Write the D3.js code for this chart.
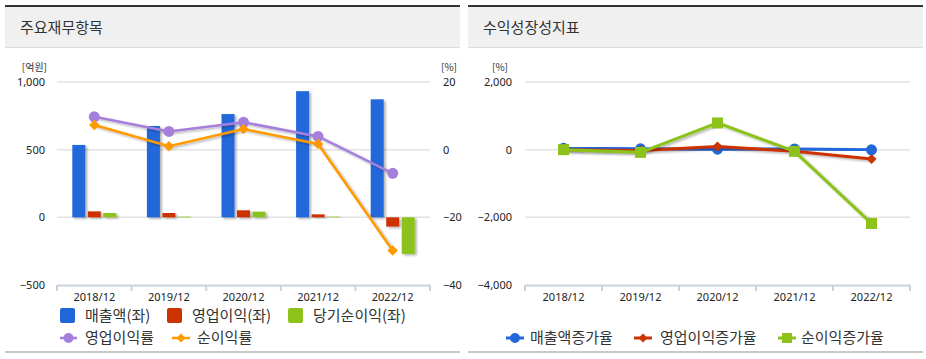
<!DOCTYPE html>
<html><head><meta charset="utf-8">
<script src="https://cdn.jsdelivr.net/npm/d3@7"></script>
<style>
body{margin:0;background:#fff;}
svg{display:block;font-family:"Noto Sans CJK KR","Noto Sans",sans-serif;}
</style></head><body>
<svg id="c" width="926" height="359"></svg>
<script>
const categories = ["2018/12","2019/12","2020/12","2021/12","2022/12"];
// left chart (억원)
const sales = [535, 675, 763, 932, 872];
const opProfit = [44, 32, 52, 22, -68];
const netProfit = [32, 5, 42, 5, -270];
// left chart (%)
const opMargin = [9.7, 5.4, 8.1, 3.9, -7.0];
const netMargin = [7.3, 1.0, 6.1, 1.7, -29.8];
const leftTicks = [1000, 500, 0, -500];
const rightTicks = [20, 0, -20, -40];
// right chart (%)
const salesGrowth = [40, 26, 13, 22, -6];
const opGrowth = [0, -27, 90, -50, -275];
const netGrowth = [0, -80, 790, -50, -2180];
const growthTicks = [2000, 0, -2000, -4000];

const C = {blue:"#2167da", red:"#cc3300", green:"#8cc21a", purple:"#a67fdc", orange:"#ff9a00"};
const svg = d3.select("#c");
const defs = svg.append("defs");
const f = defs.append("filter").attr("id","sh").attr("x","-30%").attr("y","-30%").attr("width","170%").attr("height","170%");
f.append("feDropShadow").attr("dx",2).attr("dy",1.5).attr("stdDeviation",1).attr("flood-color","#000").attr("flood-opacity",0.3);

function panel(x0, x1, title){
  svg.append("rect").attr("x",x0).attr("y",7).attr("width",x1-x0).attr("height",40).attr("fill","#f0f0f0");
  svg.append("rect").attr("x",x0).attr("y",5).attr("width",x1-x0).attr("height",2).attr("fill","#333");
  svg.append("rect").attr("x",x0).attr("y",47).attr("width",x1-x0).attr("height",1).attr("fill","#dcdcdc");
  svg.append("rect").attr("x",x0).attr("y",351).attr("width",x1-x0).attr("height",2).attr("fill","#c8c8c8");
  svg.append("text").attr("x",x0+15).attr("y",33).attr("font-size",15).attr("fill","#333").text(title);
}
panel(5,460,"주요재무항목");
panel(468,923,"수익성장성지표");

const yTop=82, yBot=285;
// ---------- LEFT ----------
{
  const L=57, R=430;
  const x = d3.scaleBand().domain(categories).range([L,R]);
  const y = d3.scaleLinear().domain([-500,1000]).range([yBot,yTop]);
  const y2 = d3.scaleLinear().domain([-40,20]).range([yBot,yTop]);
  const g = svg.append("g");
  g.selectAll(".gl").data(leftTicks.filter(t=>t>-500)).join("line")
    .attr("x1",L).attr("x2",R).attr("y1",d=>y(d)).attr("y2",d=>y(d)).attr("stroke","#e3e3e3").attr("stroke-width",1.5);
  const la = g.append("g").attr("transform",`translate(${L-9},0)`).call(d3.axisLeft(y).tickValues(leftTicks).tickSize(0).tickFormat(d3.format(",")));
  la.select(".domain").remove();
  la.selectAll("text").attr("font-size",11).attr("fill","#222").attr("font-family","Noto Sans, sans-serif");
  const ra = g.append("g").attr("transform",`translate(${R+10},0)`).call(d3.axisRight(y2).tickValues(rightTicks).tickSize(0));
  ra.select(".domain").remove();
  ra.selectAll("text").attr("font-size",11).attr("fill","#222").attr("font-family","Noto Sans, sans-serif");
  g.append("text").attr("x",47).attr("y",71).attr("text-anchor","end").attr("font-size",10).attr("fill","#333").text("[억원]");
  g.append("text").attr("x",441).attr("y",71).attr("font-size",10).attr("fill","#333").text("[%]");
  // x axis
  const xa = g.append("g").attr("transform",`translate(0,${yBot})`).call(d3.axisBottom(x).tickSize(0).tickPadding(8));
  xa.select(".domain").attr("stroke","#c9d3e0").attr("stroke-width",2);
  xa.selectAll("text").attr("font-size",11).attr("fill","#222").attr("font-family","Noto Sans, sans-serif");
  g.selectAll(".bt").data(d3.range(categories.length+1)).join("line")
    .attr("x1",i=>L+i*x.step()).attr("x2",i=>L+i*x.step()).attr("y1",yBot).attr("y2",yBot+6).attr("stroke","#c9d3e0").attr("stroke-width",2);
  const bw=13, gap=2.5;
  const series=[[sales,C.blue],[opProfit,C.red],[netProfit,C.green]];
  series.forEach(([vals,col],k)=>{
    g.selectAll(null).data(vals).join("rect")
      .attr("x",(d,i)=>x(categories[i])+x.bandwidth()/2-(1.5*bw+gap)+k*(bw+gap))
      .attr("y",d=>Math.min(y(d),y(0))).attr("width",bw).attr("height",d=>Math.abs(y(d)-y(0)))
      .attr("fill",col).attr("filter","url(#sh)");
  });
  const cx=(d,i)=>x(categories[i])+x.bandwidth()/2;
  const line=d3.line().x(cx).y(d=>y2(d));
  g.append("path").datum(opMargin).attr("d",line).attr("fill","none").attr("stroke",C.purple).attr("stroke-width",2.5).attr("filter","url(#sh)");
  g.selectAll(null).data(opMargin).join("circle").attr("cx",cx).attr("cy",d=>y2(d)).attr("r",5.5).attr("fill",C.purple);
  g.append("path").datum(netMargin).attr("d",line).attr("fill","none").attr("stroke",C.orange).attr("stroke-width",2.5).attr("filter","url(#sh)");
  g.selectAll(null).data(netMargin).join("path").attr("d",d3.symbol(d3.symbolSquare,55)).attr("transform",(d,i)=>`translate(${cx(d,i)},${y2(d)}) rotate(45)`).attr("fill",C.orange);
  // legend
  const lg = svg.append("g").attr("font-size",15).attr("fill","#333");
  [[60,"매출액(좌)",C.blue,85],[167,"영업이익(좌)",C.red,192],[288,"당기순이익(좌)",C.green,313]].forEach(([lx,t,c,tx])=>{
    lg.append("rect").attr("x",lx).attr("y",308).attr("width",15).attr("height",15).attr("rx",2).attr("fill",c);
    lg.append("text").attr("x",tx).attr("y",321).text(t);
  });
  lg.append("line").attr("x1",60).attr("x2",77).attr("y1",338).attr("y2",338).attr("stroke",C.purple).attr("stroke-width",2.5);
  lg.append("circle").attr("cx",68.5).attr("cy",338).attr("r",5).attr("fill",C.purple);
  lg.append("text").attr("x",85).attr("y",343).text("영업이익률");
  lg.append("line").attr("x1",172).attr("x2",190).attr("y1",338).attr("y2",338).attr("stroke",C.orange).attr("stroke-width",2.5);
  lg.append("path").attr("d",d3.symbol(d3.symbolSquare,40)).attr("transform","translate(181,338) rotate(45)").attr("fill",C.orange);
  lg.append("text").attr("x",197).attr("y",343).text("순이익률");
}
// ---------- RIGHT ----------
{
  const L=525, R=910;
  const x = d3.scaleBand().domain(categories).range([L,R]);
  const y = d3.scaleLinear().domain([-4000,2000]).range([yBot,yTop]);
  const g = svg.append("g");
  g.selectAll(null).data(growthTicks.filter(t=>t>-4000)).join("line")
    .attr("x1",L).attr("x2",R).attr("y1",d=>y(d)).attr("y2",d=>y(d)).attr("stroke","#e3e3e3").attr("stroke-width",1.5);
  const la = g.append("g").attr("transform",`translate(${L-10},0)`).call(d3.axisLeft(y).tickValues(growthTicks).tickSize(0).tickFormat(d3.format(",")));
  la.select(".domain").remove();
  la.selectAll("text").attr("font-size",11).attr("fill","#222").attr("font-family","Noto Sans, sans-serif");
  g.append("text").attr("x",508).attr("y",71).attr("text-anchor","end").attr("font-size",10).attr("fill","#333").text("[%]");
  const xa = g.append("g").attr("transform",`translate(0,${yBot})`).call(d3.axisBottom(x).tickSize(0).tickPadding(8));
  xa.select(".domain").attr("stroke","#c9d3e0").attr("stroke-width",2);
  xa.selectAll("text").attr("font-size",11).attr("fill","#222").attr("font-family","Noto Sans, sans-serif");
  g.selectAll(null).data(d3.range(categories.length+1)).join("line")
    .attr("x1",i=>L+i*x.step()).attr("x2",i=>L+i*x.step()).attr("y1",yBot).attr("y2",yBot+6).attr("stroke","#c9d3e0").attr("stroke-width",2);
  const cx=(d,i)=>x(categories[i])+x.bandwidth()/2;
  const line=d3.line().x(cx).y(d=>y(d));
  g.append("path").datum(salesGrowth).attr("d",line).attr("fill","none").attr("stroke",C.blue).attr("stroke-width",3).attr("filter","url(#sh)");
  g.selectAll(null).data(salesGrowth).join("circle").attr("cx",cx).attr("cy",d=>y(d)).attr("r",5.5).attr("fill",C.blue);
  g.append("path").datum(opGrowth).attr("d",line).attr("fill","none").attr("stroke",C.red).attr("stroke-width",3).attr("filter","url(#sh)");
  g.selectAll(null).data(opGrowth).join("path").attr("d",d3.symbol(d3.symbolSquare,50)).attr("transform",(d,i)=>`translate(${cx(d,i)},${y(d)}) rotate(45)`).attr("fill",C.red);
  g.append("path").datum(netGrowth).attr("d",line).attr("fill","none").attr("stroke",C.green).attr("stroke-width",3).attr("filter","url(#sh)");
  g.selectAll(null).data(netGrowth).join("rect").attr("x",(d,i)=>cx(d,i)-5.5).attr("y",d=>y(d)-5.5).attr("width",11).attr("height",11).attr("fill",C.green);
  const lg = svg.append("g").attr("font-size",15).attr("fill","#333");
  lg.append("line").attr("x1",506).attr("x2",524).attr("y1",338).attr("y2",338).attr("stroke",C.blue).attr("stroke-width",3);
  lg.append("circle").attr("cx",515).attr("cy",338).attr("r",5).attr("fill",C.blue);
  lg.append("text").attr("x",530).attr("y",343).text("매출액증가율");
  lg.append("line").attr("x1",634).attr("x2",652).attr("y1",338).attr("y2",338).attr("stroke",C.red).attr("stroke-width",3);
  lg.append("path").attr("d",d3.symbol(d3.symbolSquare,40)).attr("transform","translate(643,338) rotate(45)").attr("fill",C.red);
  lg.append("text").attr("x",660).attr("y",343).text("영업이익증가율");
  lg.append("line").attr("x1",778).attr("x2",796).attr("y1",338).attr("y2",338).attr("stroke",C.green).attr("stroke-width",3);
  lg.append("rect").attr("x",782).attr("y",333).attr("width",10).attr("height",10).attr("fill",C.green);
  lg.append("text").attr("x",801).attr("y",343).text("순이익증가율");
}
</script></body></html>
